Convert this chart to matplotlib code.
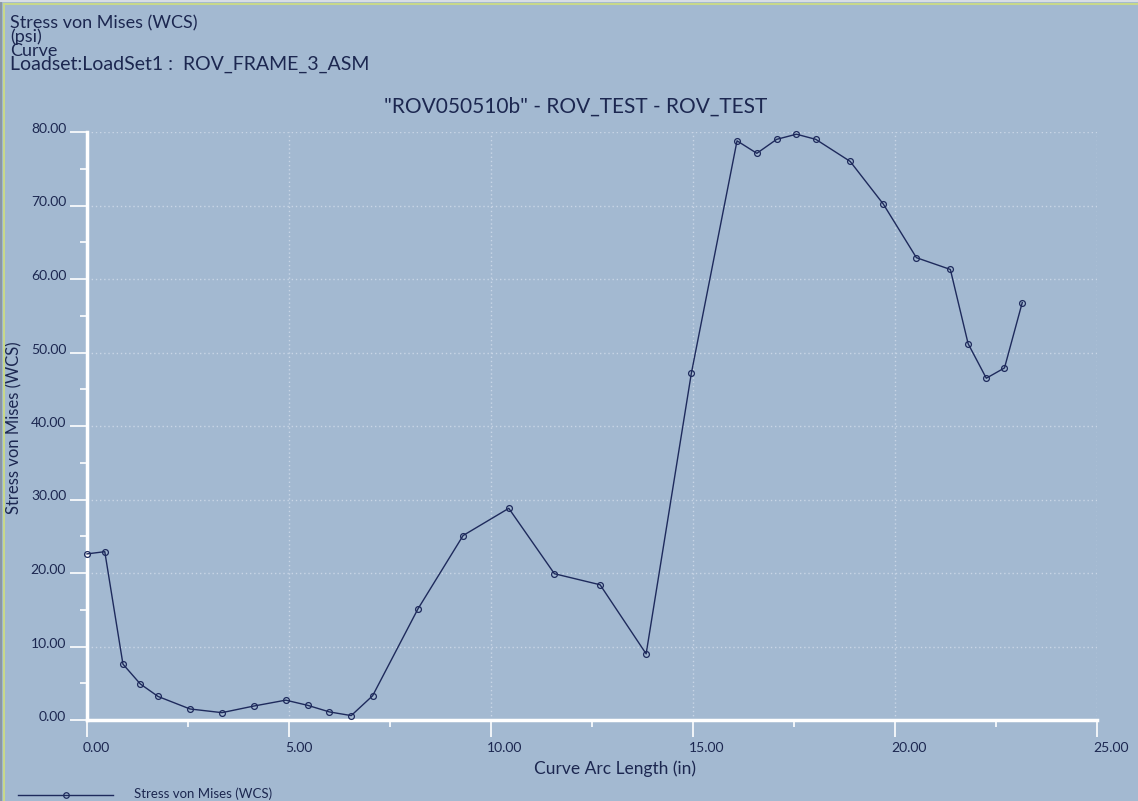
import matplotlib.pyplot as plt
import matplotlib.transforms as mtransforms
from matplotlib.ticker import MultipleLocator, FormatStrFormatter

# data
arc_length = [0.00, 0.44, 0.89, 1.32, 1.76, 2.55, 3.34, 4.13, 4.92, 5.46, 6.00,
              6.54, 7.07, 8.19, 9.31, 10.44, 11.57, 12.70, 13.84, 14.96, 16.09,
              16.58, 17.07, 17.56, 18.04, 18.89, 19.71, 20.53, 21.37, 21.81,
              22.26, 22.71, 23.15]
stress = [22.6, 22.9, 7.6, 4.9, 3.2, 1.5, 1.0, 1.9, 2.7, 2.0, 1.1,
          0.6, 3.3, 15.1, 25.1, 28.8, 19.9, 18.4, 9.0, 47.2, 78.8,
          77.1, 79.0, 79.7, 79.0, 76.0, 70.2, 62.9, 61.3, 51.2,
          46.5, 47.9, 56.8]

header_lines = ["Stress von Mises (WCS)", "(psi)", "Curve",
                "Loadset:LoadSet1 :  ROV_FRAME_3_ASM"]
subtitle = '"ROV050510b" - ROV_TEST - ROV_TEST'
series_name = "Stress von Mises (WCS)"

W, H = 1138, 801
bg = "#a3b9d1"
ink = "#1c2750"
line_col = "#1e2a5c"

plt.rcParams["font.family"] = ["Lato", "DejaVu Sans"]

fig = plt.figure(figsize=(W / 100, H / 100), dpi=100, facecolor=bg)

# frame edges like the screenshot
fig.add_artist(plt.Line2D([3.5 / W, 3.5 / W], [0, 1 - 3.5 / H], color="#c8d88a", lw=1.5))
fig.add_artist(plt.Line2D([3.5 / W, 1], [1 - 3.5 / H, 1 - 3.5 / H], color="#c8d88a", lw=1.5))
fig.add_artist(plt.Line2D([1 / W, 1 / W], [0, 1], color="#8a96a6", lw=1.5))
fig.add_artist(plt.Line2D([0, 1], [1 - 1 / H, 1 - 1 / H], color="#d8dde4", lw=1.5))

ax = fig.add_axes([87 / W, 1 - 720 / H, (1097 - 87) / W, (720 - 132) / H])
ax.set_facecolor(bg)

ax.plot(arc_length, stress, color=line_col, lw=1.0, marker="o", ms=4.2,
        mfc="none", mec=line_col, mew=0.9, zorder=3, clip_on=False)

ax.set_xlim(0, 25)
ax.set_ylim(0, 80)
ax.xaxis.set_major_locator(MultipleLocator(5))
ax.xaxis.set_minor_locator(MultipleLocator(2.5))
ax.yaxis.set_major_locator(MultipleLocator(10))
ax.yaxis.set_minor_locator(MultipleLocator(5))
ax.xaxis.set_major_formatter(FormatStrFormatter("%.2f"))
ax.yaxis.set_major_formatter(FormatStrFormatter("%.2f"))

for side in ["top", "right"]:
    ax.spines[side].set_visible(False)
for side in ["left", "bottom"]:
    ax.spines[side].set_color("white")
    ax.spines[side].set_linewidth(2.5)

ax.tick_params(which="major", direction="out", length=12, width=1.2, color="white",
               labelcolor=ink, labelsize=10)
ax.tick_params(which="minor", direction="out", length=5, width=1.2, color="white")
ax.tick_params(axis="x", which="major", pad=4)
ax.tick_params(axis="y", which="major", pad=3)

# x labels start just left of the tick
offset = mtransforms.ScaledTranslation(-4 / 100, 0, fig.dpi_scale_trans)
for lab in ax.get_xticklabels():
    lab.set_ha("left")
    lab.set_transform(lab.get_transform() + offset)
yoff = mtransforms.ScaledTranslation(0, 4 / 100, fig.dpi_scale_trans)
for lab in ax.get_yticklabels():
    lab.set_transform(lab.get_transform() + yoff)

ax.grid(which="major", color="#c9d6e6", lw=1.0, linestyle=(0, (1, 2)))
ax.set_axisbelow(True)

ax.set_xlabel("Curve Arc Length (in)", fontsize=12.5, color=ink)
ax.set_ylabel("Stress von Mises (WCS)", fontsize=12, color=ink)
ax.yaxis.set_label_coords(22 / W, 1 - 428 / H, transform=fig.transFigure)
ax.xaxis.set_label_coords(615 / W, 1 - 760 / H, transform=fig.transFigure)

# header block, lines packed tightly as in the original
baselines = [28, 42, 56, 70]
sizes = [13, 13, 13, 14]
for txt, b, fs in zip(header_lines, baselines, sizes):
    fig.text(10 / W, 1 - b / H, txt, fontsize=fs, color=ink, va="baseline", ha="left")

fig.text(576 / W, 1 - 113 / H, subtitle, fontsize=15, color=ink, va="baseline", ha="center")

# legend in the lower left corner
fig.add_artist(plt.Line2D([18 / W, 113 / W], [1 - 795 / H, 1 - 795 / H], color=line_col, lw=1.0))
fig.add_artist(plt.Line2D([66 / W], [1 - 795 / H], color=line_col, marker="o", ms=4,
                          mfc="none", mew=0.9))
fig.text(134 / W, 1 - 794 / H, series_name, fontsize=9.5, color=ink, va="center", ha="left")

fig.savefig("out.png", dpi=100, facecolor=bg)
